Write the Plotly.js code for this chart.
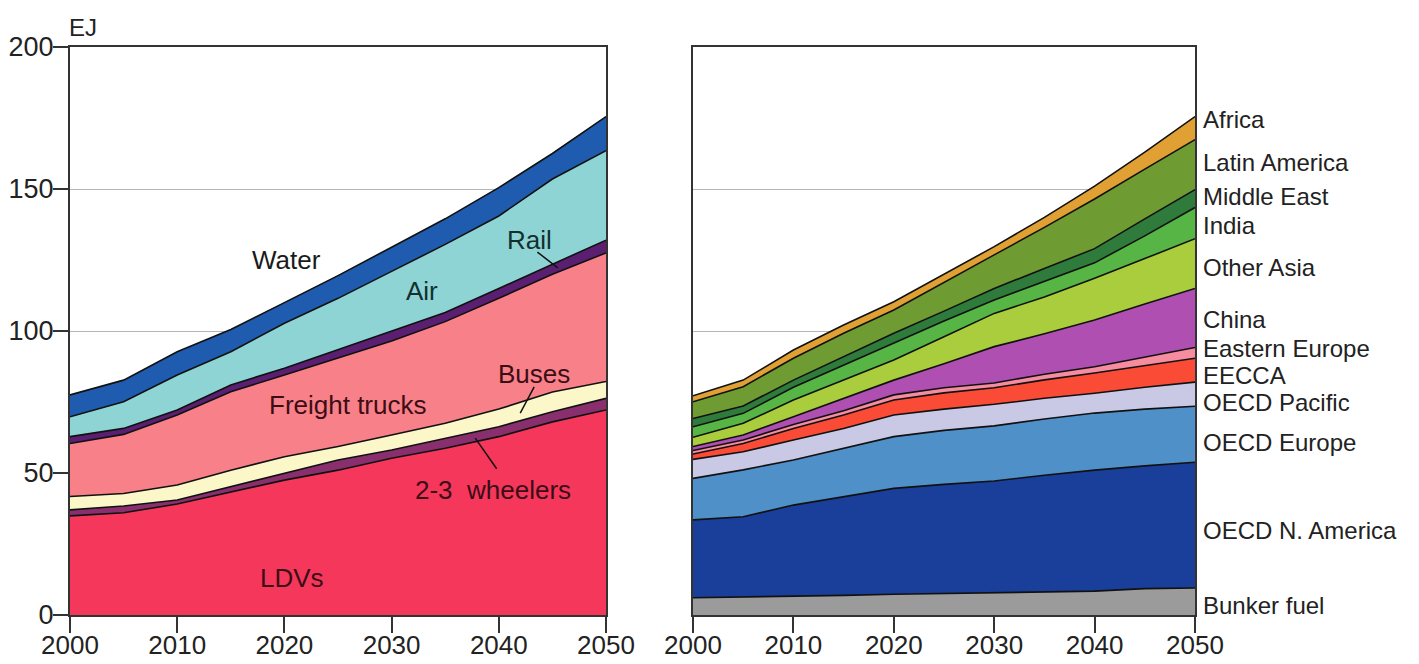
<!DOCTYPE html>
<html>
<head>
<meta charset="utf-8">
<script src="https://cdn.plot.ly/plotly-3.0.1.min.js"></script>
<style>html,body{margin:0;padding:0;background:#fff;}#chart{width:1419px;height:664px;}</style>
</head>
<body>
<div id="chart"></div>
<script>
// ---------- data ----------
var years = [2000, 2005, 2010, 2015, 2020, 2025, 2030, 2035, 2040, 2045, 2050];
var xTicks = [2000, 2010, 2020, 2030, 2040, 2050];
var yTicks = [0, 50, 100, 150, 200];

// Left panel: by mode (EJ)
var modeNames = ["LDVs", "2-3 wheelers", "Buses", "Freight trucks", "Rail", "Air", "Water"];
var ldv      = [34.9, 36.0, 39.1, 43.4, 47.5, 51.0, 55.2, 58.7, 62.8, 68.0, 72.2];
var wheelers = [2.1, 2.4, 1.4, 1.8, 2.4, 3.6, 2.9, 3.5, 3.5, 3.6, 4.1];
var buses    = [4.7, 4.4, 5.3, 5.8, 5.8, 4.7, 5.3, 5.3, 6.2, 6.9, 5.9];
var freight  = [18.7, 20.8, 24.6, 27.6, 28.8, 31.2, 33.1, 35.8, 39.0, 41.5, 45.3];
var rail     = [2.4, 2.1, 1.8, 2.4, 2.4, 3.0, 3.5, 3.2, 3.5, 3.5, 4.5];
var air      = [7.0, 9.4, 12.3, 11.7, 15.8, 18.0, 21.0, 24.0, 25.5, 30.0, 31.5];
var water    = [7.7, 7.6, 8.2, 7.8, 7.3, 8.0, 8.5, 9.0, 10.0, 9.0, 12.0];

// Right panel: by region (EJ)
var regionNames = ["Bunker fuel", "OECD N. America", "OECD Europe", "OECD Pacific", "EECCA",
                   "Eastern Europe", "China", "Other Asia", "India", "Middle East", "Latin America", "Africa"];
var bunker   = [6.1, 6.3, 6.5, 6.9, 7.3, 7.6, 8.0, 8.2, 8.4, 9.3, 9.5];
var oecdNA   = [27.4, 28.3, 32.2, 34.8, 37.3, 38.4, 39.2, 41.0, 42.6, 43.2, 44.3];
var oecdEur  = [14.6, 16.5, 15.9, 17.0, 18.2, 19.0, 19.4, 19.8, 20.1, 20.0, 19.7];
var oecdPac  = [6.7, 6.4, 7.0, 7.0, 7.6, 7.5, 7.6, 7.3, 7.0, 7.7, 8.5];
var eecca    = [1.9, 2.9, 4.1, 4.7, 5.3, 5.7, 5.8, 6.5, 7.1, 7.6, 8.4];
var eastEur  = [1.2, 1.2, 1.4, 1.5, 1.8, 1.8, 1.7, 2.0, 2.2, 2.9, 3.8];
var china    = [1.4, 1.8, 2.7, 4.4, 5.2, 8.5, 12.8, 14.2, 16.5, 18.8, 20.8];
var otherAsia= [3.3, 4.1, 5.9, 6.4, 7.1, 9.5, 11.7, 13.0, 14.7, 16.0, 17.5];
var india    = [3.7, 3.5, 4.5, 5.3, 5.9, 5.5, 4.7, 5.5, 5.4, 8.0, 11.0];
var midEast  = [2.9, 2.6, 2.5, 3.0, 3.5, 3.5, 4.1, 4.5, 5.0, 6.0, 6.3];
var latAm    = [5.9, 6.8, 7.7, 8.2, 8.2, 10.0, 11.8, 14.5, 17.5, 17.5, 17.6];
var africa   = [2.1, 2.3, 2.9, 2.9, 2.9, 3.0, 2.9, 3.5, 4.5, 6.0, 8.1];

// ---------- styles ----------
var modeColors = ["#f4375b", "#8a2f6e", "#fbf7c9", "#f88088", "#5a1f70", "#8fd4d4", "#1f5cb0"];
var regionColors = ["#9b9b9b", "#1a3f9a", "#4f90c9", "#c9c9e6", "#f94b36", "#f58ca0",
                    "#b04fb2", "#a9cd3c", "#56b545", "#2e7b3b", "#6f9b33", "#e0a033"];
var FONT = "Liberation Sans, Arial, sans-serif";

var modeSeries = [ldv, wheelers, buses, freight, rail, air, water];
var regionSeries = [bunker, oecdNA, oecdEur, oecdPac, eecca, eastEur, china, otherAsia, india, midEast, latAm, africa];

var traces = [];
modeSeries.forEach(function (s, i) {
  traces.push({
    x: years, y: s, name: modeNames[i], type: "scatter", mode: "lines",
    stackgroup: "modes", fillcolor: modeColors[i],
    line: {color: "#111", width: 1.6}, xaxis: "x", yaxis: "y", hoverinfo: "skip"
  });
});
regionSeries.forEach(function (s, i) {
  traces.push({
    x: years, y: s, name: regionNames[i], type: "scatter", mode: "lines",
    stackgroup: "regions", fillcolor: regionColors[i],
    line: {color: "#111", width: 1.6}, xaxis: "x2", yaxis: "y2", hoverinfo: "skip"
  });
});

var W = 1419, H = 664;
function xaxisCfg(domain) {
  return {
    domain: domain, range: [2000, 2050], tickvals: xTicks, ticks: "outside", ticklen: 16,
    tickwidth: 2, tickcolor: "#333", showline: true, linecolor: "#333", linewidth: 2,
    mirror: true, showgrid: false, zeroline: false, ticklabelstandoff: -10,
    tickfont: {family: FONT, size: 26, color: "#222"}, fixedrange: true
  };
}
function yaxisCfg(showLabels) {
  return {
    domain: [1 - 615 / H, 1 - 47 / H], range: [0, 200], tickvals: yTicks,
    ticks: showLabels ? "outside" : "", ticklen: 15, tickwidth: 2, tickcolor: "#333",
    showticklabels: showLabels, showline: true, linecolor: "#333", linewidth: 2, mirror: true,
    showgrid: true, gridcolor: "#b5b5b5", gridwidth: 1, zeroline: false, ticklabelstandoff: -6,
    tickfont: {family: FONT, size: 27, color: "#222"}, fixedrange: true
  };
}

var darkRed = "#3b0d17";
var annotations = [
  {x: 0.047, y: 1 - 28 / H, xref: "paper", yref: "paper", text: "EJ", xanchor: "left", yanchor: "middle",
   showarrow: false, font: {family: FONT, size: 24, color: "#222"}},
  {x: 2020.2, y: 125, xref: "x", yref: "y", text: "Water", showarrow: false, font: {family: FONT, size: 26, color: "#1a1a1a"}},
  {x: 2032.8, y: 114, xref: "x", yref: "y", text: "Air", showarrow: false, font: {family: FONT, size: 26, color: "#123030"}},
  {x: 2042.9, y: 132, xref: "x", yref: "y", text: "Rail", showarrow: false, font: {family: FONT, size: 26, color: "#123030"}},
  {x: 2025.9, y: 74, xref: "x", yref: "y", text: "Freight trucks", showarrow: false, font: {family: FONT, size: 26, color: darkRed}},
  {x: 2043.3, y: 85, xref: "x", yref: "y", text: "Buses", showarrow: false, font: {family: FONT, size: 26, color: darkRed}},
  {x: 2039.5, y: 44, xref: "x", yref: "y", text: "2-3\u00a0\u00a0wheelers", showarrow: false, font: {family: FONT, size: 26, color: darkRed}},
  {x: 2020.7, y: 13, xref: "x", yref: "y", text: "LDVs", showarrow: false, font: {family: FONT, size: 26, color: darkRed}}
];
var regionLabelY = [3.2, 29.9, 60.6, 75, 84.2, 94, 103.9, 122.5, 137, 147.5, 159.5, 174.6];
regionNames.forEach(function (n, i) {
  annotations.push({x: 2050, y: regionLabelY[i], xref: "x2", yref: "y2", text: n, xanchor: "left",
    yanchor: "middle", xshift: 6, showarrow: false, font: {family: FONT, size: 24, color: "#222"}});
});

var shapes = [
  {type: "line", xref: "x", yref: "y", x0: 2043.6, y0: 127.8, x1: 2045.5, y1: 122.2, line: {color: "#111", width: 1.5}},
  {type: "line", xref: "x", yref: "y", x0: 2043.3, y0: 80.3, x1: 2042.0, y1: 71.1, line: {color: "#111", width: 1.5}},
  {type: "line", xref: "x", yref: "y", x0: 2039.8, y0: 51.5, x1: 2037.8, y1: 62.3, line: {color: "#111", width: 1.5}}
];

var layout = {
  width: W, height: H, margin: {l: 0, r: 0, t: 0, b: 0},
  paper_bgcolor: "#fff", plot_bgcolor: "#fff", showlegend: false, hovermode: false,
  xaxis: xaxisCfg([70 / W, 606 / W]),
  yaxis: yaxisCfg(true),
  xaxis2: xaxisCfg([693 / W, 1195 / W]),
  yaxis2: Object.assign(yaxisCfg(false), {anchor: "x2"}),
  annotations: annotations, shapes: shapes
};
layout.xaxis.anchor = "y";
layout.xaxis2.anchor = "y2";
layout.yaxis.anchor = "x";

Plotly.newPlot("chart", traces, layout, {displayModeBar: false, staticPlot: true});
</script>
</body>
</html>
